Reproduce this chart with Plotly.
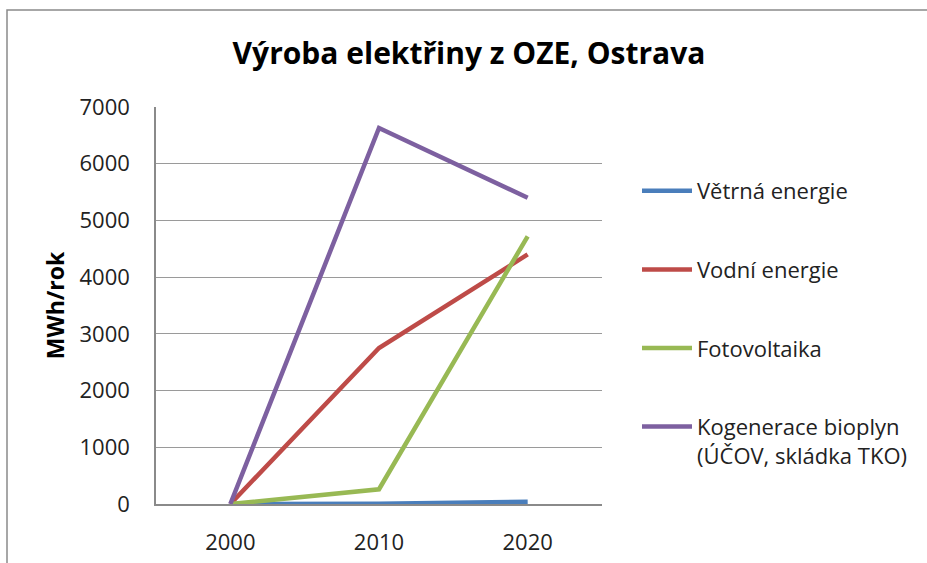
import plotly.graph_objects as go

years = ["2000", "2010", "2020"]
vetrna = [0, 5, 40]
vodni = [0, 2750, 4400]
fotovoltaika = [0, 260, 4720]
kogenerace = [0, 6630, 5400]
y_ticks = [0, 1000, 2000, 3000, 4000, 5000, 6000, 7000]

series = [
    ("Větrná energie", vetrna, "#4A7EBB"),
    ("Vodní energie", vodni, "#BE4B48"),
    ("Fotovoltaika", fotovoltaika, "#98B954"),
    ("Kogenerace bioplyn<br>(ÚČOV, skládka TKO)", kogenerace, "#7D60A0"),
]

FONT = "Open Sans, Liberation Sans, sans-serif"

fig = go.Figure()
for i, (name, vals, col) in enumerate(series):
    fig.add_trace(go.Scatter(
        x=years, y=vals, mode="lines", name=name,
        line=dict(color=col, width=4.5),
        legendgroup=f"g{i}",
    ))

W, H = 927, 563
L, R, T, B = 156, 602, 107, 504
pw, ph = R - L, B - T

def px_x(p):
    return (p - L) / pw

def px_y(p):
    return (B - p) / ph

fig.update_layout(
    width=W, height=H,
    margin=dict(l=L, r=W - R, t=T, b=H - B, autoexpand=False),
    paper_bgcolor="white", plot_bgcolor="white",
    font=dict(family=FONT, size=22, color="#222"),
    title=dict(text="<b>Výroba elektřiny z OZE, Ostrava</b>",
               x=px_x(469), xref="paper", xanchor="center",
               y=1 - 53 / H, yref="container", yanchor="middle",
               font=dict(family=FONT, size=30, color="#000")),
    xaxis=dict(
        type="category", range=[-0.5, 2.5], automargin=False,
        showline=True, linecolor="#8a8a8a", linewidth=1.5,
        showgrid=False, ticks="", ticklabelstandoff=18,
        tickfont=dict(size=22),
    ),
    yaxis=dict(
        range=[0, 7000], tickvals=y_ticks, automargin=False,
        showline=True, linecolor="#8a8a8a", linewidth=1.5,
        showgrid=True, gridcolor="#9a9a9a", gridwidth=1.2,
        zeroline=False, ticks="", ticklabelstandoff=20,
        tickfont=dict(size=22),
        title=dict(text="<b>MWh/rok</b>", font=dict(size=23, color="#000"), standoff=8),
    ),
    legend=dict(
        x=px_x(637), xanchor="left", y=px_y(170), yanchor="top",
        valign="top", tracegroupgap=47, itemwidth=50,
        font=dict(size=22, color="#222"), bgcolor="rgba(0,0,0,0)",
    ),
    shapes=[dict(
        type="rect", xref="paper", yref="paper",
        x0=px_x(7), x1=px_x(1100), y0=px_y(700), y1=px_y(10),
        line=dict(color="#8a8a8a", width=1.5), fillcolor="rgba(0,0,0,0)",
        layer="below",
    )],
)

fig.write_html("out.html", config={"displayModeBar": False},
               post_script="document.body.style.margin='0';")
